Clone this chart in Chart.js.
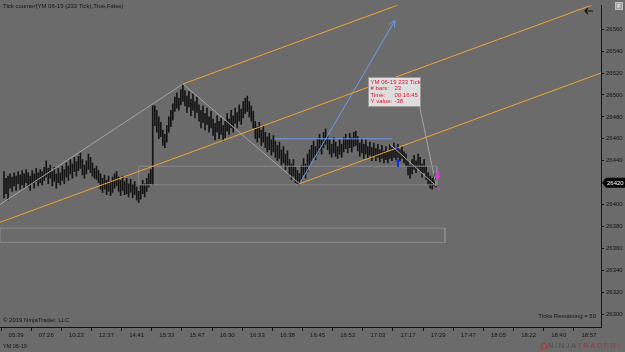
<!DOCTYPE html>
<html><head><meta charset="utf-8">
<script src="https://cdn.jsdelivr.net/npm/chart.js@4.4.1/dist/chart.umd.min.js"></script>
<style>
html,body{margin:0;padding:0;background:#6b6b6b;}
#wrap{position:relative;width:625px;height:352px;overflow:hidden;background:#6b6b6b;font-family:"Liberation Sans",Arial,sans-serif;}
canvas{position:absolute;left:0;top:0;}
.t{position:absolute;font-size:6px;color:#141414;white-space:nowrap;line-height:6px;}
.logo{position:absolute;left:548px;top:342px;font-size:7.5px;letter-spacing:1.6px;line-height:8px;white-space:nowrap;}
</style></head><body>
<div id="wrap"><canvas id="c" width="625" height="352"></canvas>
<div class="t" style="left:3px;top:3px;">Tick counter(YM 06-19 (233 Tick),True,False)</div>
<div class="t" style="left:3px;top:317px;">© 2019 NinjaTrader, LLC</div>
<div class="t" style="right:29px;top:313px;">Ticks Remaining = 50</div>
<div class="t" style="left:3px;top:343px;font-size:5.5px;">YM 06-19</div>
<div class="logo"><span style="color:#4a4a4a;">NINJA</span><span style="color:#c3262c;">TRADER</span><span style="color:#c3262c;font-size:4px;vertical-align:top;">®</span></div>
</div>
<script>
// ---- data ----
const timeLabels = ['05:39','07:26','10:23','12:37','14:41','15:33','15:47','16:30','16:33','16:38','16:45','16:52','17:03','17:17','17:29','17:47','18:05','18:22','18:40','18:57'];
const tickBars = [6,21,36,51,66,81,96,111,126,141,156,171,186,201,216,231,246,261,276,291];
const yTicks = [26300,26320,26340,26360,26380,26400,26420,26440,26460,26480,26500,26520,26540,26560];
const highs = [
26430,26424,26426,26428,26425,26429,26426,26430,26427,26431,
26428,26432,26429,26426,26431,26428,26433,26429,26432,26430,
26434,26440,26433,26436,26430,26434,26428,26433,26429,26435,
26432,26438,26435,26441,26437,26443,26439,26444,26447,26441,
26436,26440,26446,26443,26438,26433,26435,26431,26428,26424,
26427,26422,26426,26421,26425,26428,26430,26425,26422,26426,
26421,26424,26419,26423,26418,26421,26416,26412,26418,26422,
26419,26424,26428,26432,26490,26490,26486,26480,26475,26468,
26464,26472,26480,26486,26492,26498,26502,26497,26505,26510,
26504,26499,26503,26496,26501,26494,26498,26491,26486,26490,
26483,26488,26480,26485,26478,26474,26481,26476,26479,26472,
26476,26483,26478,26486,26481,26488,26484,26491,26487,26494,
26497,26499,26494,26490,26485,26476,26471,26475,26468,26472,
26466,26462,26465,26459,26463,26458,26454,26457,26450,26453,
26446,26449,26441,26437,26441,26434,26431,26428,26436,26442,
26437,26446,26450,26454,26458,26453,26460,26464,26459,26466,
26469,26463,26459,26455,26461,26457,26453,26459,26455,26461,
26464,26459,26465,26461,26466,26467,26462,26456,26460,26455,
26459,26453,26457,26452,26456,26451,26455,26450,26454,26449,
26453,26448,26455,26452,26456,26451,26455,26450,26453,26448,
26446,26440,26436,26441,26445,26440,26446,26443,26437,26441,
26435,26429,26426,26424,26428,26424];
const lows = [
26406,26410,26404,26415,26412,26417,26413,26419,26414,26418,
26415,26420,26416,26413,26419,26415,26421,26417,26420,26418,
26422,26425,26419,26424,26417,26421,26415,26420,26418,26422,
26419,26425,26422,26428,26424,26430,26426,26431,26433,26427,
26424,26428,26432,26429,26426,26424,26423,26420,26414,26411,
26414,26409,26412,26408,26411,26415,26417,26412,26408,26413,
26409,26410,26407,26411,26406,26409,26404,26402,26405,26410,
26407,26412,26416,26419,26418,26472,26466,26460,26462,26454,
26452,26457,26466,26471,26477,26485,26488,26486,26491,26494,
26490,26484,26489,26481,26486,26479,26484,26476,26470,26475,
26468,26473,26466,26470,26463,26459,26466,26460,26464,26458,
26461,26467,26464,26470,26466,26474,26470,26476,26473,26479,
26483,26485,26480,26476,26470,26460,26457,26461,26454,26457,
26452,26448,26450,26445,26448,26443,26440,26442,26436,26438,
26432,26435,26427,26423,26426,26420,26419,26418,26422,26427,
26424,26430,26435,26440,26443,26441,26446,26449,26446,26452,
26455,26450,26446,26443,26447,26444,26442,26446,26443,26448,
26451,26447,26452,26448,26453,26454,26449,26444,26447,26442,
26446,26442,26445,26440,26444,26440,26443,26439,26442,26438,
26441,26438,26442,26440,26443,26441,26443,26440,26442,26438,
26435,26427,26424,26428,26432,26429,26433,26430,26425,26429,
26423,26418,26415,26414,26417,26416];
const lastPrice = 26420;
// drawing objects (bar index, price)
const grayLines = [[-2,26400,89,26510],[89,26510,147,26419]];
const orangeLines = [[-2,26383.8,297,26585],[89,26510,297,26650],[147,26419,297,26520]];
const blueArrowLine = [147,26419,194.5,26568];
const blueLevel = [134.8,26460,193,26460];
const rulerLine = [192,26455,215,26417];
const rulerToText = [215,26417,206.5,26492];
const rect1 = [67,26435,215.4,26418];
const rect2 = [-2,26378.5,219.4,26365.5];
const upArrow = [196,26442];
const blueMark = [195.5,26451.5];
const downArrow = [215.8,26423];
const downMark = [215.8,26414];
const rulerBoxAnchor = [181.2,26516.5];
const rulerText = [['YM 06-19 233 Tick',''],['# bars:','23'],['Time:','00:16:45'],['Y value:','-38']];

Chart.defaults.font.family = '"Liberation Sans", Arial, sans-serif';

function seg(a, color, w){
  return {type:'line', data:[{x:a[0],y:a[1]},{x:a[2],y:a[3]}], borderColor:color, borderWidth:w||1,
    pointRadius:0, fill:false, tension:0, order:0};
}
function rect(r, color){
  return {type:'line', data:[{x:r[0],y:r[1]},{x:r[2],y:r[1]},{x:r[2],y:r[3]},{x:r[0],y:r[3]},{x:r[0],y:r[1]}],
    borderColor:color, borderWidth:1, pointRadius:0, fill:false, tension:0, order:0};
}

const datasets = [];
grayLines.forEach(g=>datasets.push(seg(g,'#a4a4a4')));
orangeLines.forEach(g=>datasets.push(seg(g,'#eea437')));
datasets.push(rect(rect1,'#888888'));
datasets.push(rect(rect2,'#8c8c8c'));
datasets.push(seg(blueLevel,'#6f9be8'));
datasets.push(seg(blueArrowLine,'#6f9be8'));
datasets.push(seg(rulerLine,'#a4a4a4'));
datasets.push(seg(rulerToText,'#a4a4a4'));
datasets.push({type:'bar', data:highs.map((h,k)=>({x:k,y:[lows[k],h]})), backgroundColor:'#141414',
  borderWidth:0, barThickness:1, grouped:false, order:10});

const overlay = {
  id:'overlay',
  afterDatasetsDraw(chart){
    const ctx = chart.ctx, xs = chart.scales.x, ys = chart.scales.y;
    const P = (i,p)=>[xs.getPixelForValue(i), ys.getPixelForValue(p)];
    ctx.save();
    const ca = chart.chartArea;
    ctx.beginPath(); ctx.rect(ca.left, ca.top, ca.right-ca.left, ca.bottom-ca.top); ctx.clip();
    // blue arrow head
    const a0 = P(blueArrowLine[0],blueArrowLine[1]), a1 = P(blueArrowLine[2],blueArrowLine[3]);
    const ang = Math.atan2(a1[1]-a0[1], a1[0]-a0[0]);
    ctx.strokeStyle = '#6f9be8'; ctx.lineWidth = 1;
    ctx.beginPath();
    ctx.moveTo(a1[0]-7*Math.cos(ang-0.45), a1[1]-7*Math.sin(ang-0.45));
    ctx.lineTo(a1[0],a1[1]);
    ctx.lineTo(a1[0]-7*Math.cos(ang+0.45), a1[1]-7*Math.sin(ang+0.45));
    ctx.stroke();
    // up arrow (blue)
    let [ux,uy] = P(upArrow[0],upArrow[1]);
    ctx.fillStyle = '#1030ff';
    ctx.beginPath(); ctx.moveTo(ux,uy); ctx.lineTo(ux+2.5,uy+3.5); ctx.lineTo(ux-2.5,uy+3.5); ctx.closePath(); ctx.fill();
    ctx.fillRect(ux-1,uy+3.5,2,5);
    let [bx,by] = P(blueMark[0],blueMark[1]);
    ctx.fillRect(bx-1.5,by-0.5,3,1); ctx.fillRect(bx-0.5,by-1.5,1,3);
    // down arrow (magenta)
    let [dx,dy] = P(downArrow[0],downArrow[1]);
    ctx.fillStyle = '#ff22ff';
    ctx.beginPath(); ctx.moveTo(dx,dy); ctx.lineTo(dx+2.5,dy-3.5); ctx.lineTo(dx-2.5,dy-3.5); ctx.closePath(); ctx.fill();
    ctx.fillRect(dx-1,dy-8.5,2,5);
    let [mx,my] = P(downMark[0],downMark[1]);
    ctx.beginPath(); ctx.moveTo(mx+2,my-1.5); ctx.lineTo(mx+2,my+1.5); ctx.lineTo(mx-1,my); ctx.closePath(); ctx.fill();
    // ruler text box
    let [tx,ty] = P(rulerBoxAnchor[0],rulerBoxAnchor[1]);
    tx = Math.round(tx)+0.5; ty = Math.round(ty)+0.5;
    ctx.fillStyle = '#dedede'; ctx.strokeStyle = '#9a9a9a';
    ctx.fillRect(tx,ty,52,29); ctx.strokeRect(tx,ty,52,29);
    ctx.fillStyle = '#d8142a'; ctx.font = '6px "Liberation Sans", Arial, sans-serif'; ctx.textBaseline = 'middle';
    rulerText.forEach((r,k)=>{ ctx.fillText(r[0], tx+2, ty+4.5+k*6.6); if(r[1]) ctx.fillText(r[1], tx+26, ty+4.5+k*6.6); });
    ctx.restore();
  },
  afterDraw(chart){
    const ctx = chart.ctx, ys = chart.scales.y, ca = chart.chartArea;
    const py = ys.getPixelForValue(lastPrice);
    ctx.save();
    ctx.fillStyle = '#050505';
    ctx.beginPath();
    ctx.moveTo(ca.right+1, py); ctx.lineTo(ca.right+5, py-5); ctx.lineTo(625, py-5); ctx.lineTo(625, py+5); ctx.lineTo(ca.right+5, py+5); ctx.closePath(); ctx.fill();
    ctx.fillStyle = '#ffffff'; ctx.font = '6px "Liberation Sans", Arial, sans-serif';
    ctx.textBaseline = 'middle'; ctx.textAlign = 'left';
    ctx.fillText(String(lastPrice), ca.right+6, py+0.5);
    // back arrow and F button
    ctx.strokeStyle = '#111'; ctx.lineWidth = 1.2;
    ctx.beginPath(); ctx.moveTo(593,11); ctx.lineTo(585,11); ctx.moveTo(588,8); ctx.lineTo(585,11); ctx.lineTo(588,14); ctx.stroke();
    ctx.fillStyle = '#a0a0a0'; ctx.fillRect(615,2,8,8);
    ctx.strokeStyle = '#d0d0d0'; ctx.lineWidth = 0.6; ctx.strokeRect(615.5,2.5,7,7);
    ctx.fillStyle = '#f0f0f0'; ctx.font = 'bold 6px "Liberation Sans", Arial, sans-serif'; ctx.textAlign='center';
    ctx.fillText('F', 619, 6.5);
    // logo icon
    ctx.strokeStyle = '#c3262c'; ctx.lineWidth = 1;
    ctx.beginPath(); ctx.arc(544, 346, 3, 0, Math.PI*2); ctx.stroke();
    ctx.restore();
  }
};

new Chart(document.getElementById('c'), {
  type:'bar',
  data:{datasets},
  options:{
    responsive:false, animation:false, devicePixelRatio:1, events:[],
    layout:{padding:0},
    plugins:{legend:{display:false}, tooltip:{enabled:false}, title:{display:false}},
    scales:{
      x:{type:'linear', min:-2, max:297, offset:false, position:'bottom',
        afterBuildTicks:s=>{s.ticks = tickBars.map(v=>({value:v}));},
        afterFit:s=>{s.height = 25;},
        ticks:{autoSkip:false, maxRotation:0, minRotation:0, color:'#141414', font:{size:6}, padding:1,
          callback:v=>{const k = tickBars.indexOf(v); return k>=0 ? timeLabels[k] : '';}},
        grid:{display:true, drawOnChartArea:false, drawTicks:true, tickLength:4, color:'#141414'},
        border:{display:true, color:'#141414', width:1}},
      y:{type:'linear', position:'right', min:26288.3, max:26581.5,
        afterBuildTicks:s=>{s.ticks = yTicks.map(v=>({value:v}));},
        afterFit:s=>{s.width = 24;},
        ticks:{color:'#141414', font:{size:6}, padding:2, callback:v=>String(v)},
        grid:{display:true, drawOnChartArea:false, drawTicks:true, tickLength:3, color:'#141414'},
        border:{display:true, color:'#141414', width:1}}
    }
  },
  plugins:[overlay]
});
</script>
</body></html>
